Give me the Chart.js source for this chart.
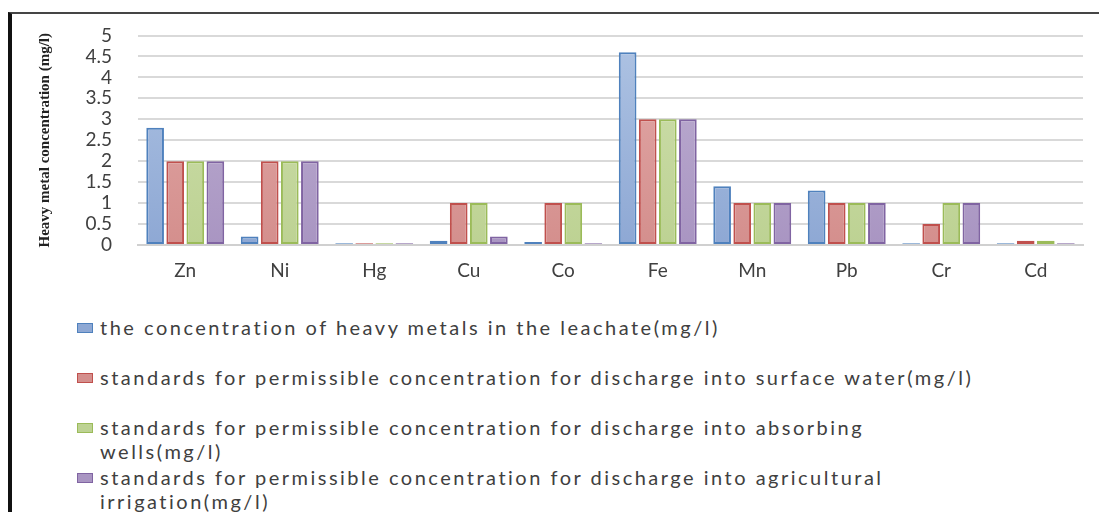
<!DOCTYPE html>
<html>
<head>
<meta charset="utf-8">
<script src="https://cdn.jsdelivr.net/npm/chart.js@4.4.1/dist/chart.umd.min.js"></script>
<style>
    html, body { margin: 0; padding: 0; background: #fff; }
    body { width: 1099px; height: 512px; position: relative; overflow: hidden; }
    #frame { position: absolute; left: 8px; top: 12px; width: 1091px; height: 500px;
             border-left: 4px solid #111; border-top: 2px solid #454545; box-sizing: border-box; }
    #chartBox { position: absolute; left: 0; top: 0; width: 1099px; height: 304px; }
    #legend { position: absolute; left: 77px; top: 315px; font-family: Lato, sans-serif;
              font-size: 20px; color: #404040; letter-spacing: 2.5px; }
    .item { display: flex; height: 50px; line-height: 24px; }
    .swatch { width: 14px; height: 8px; border: 1px solid; margin-top: 8px; margin-right: 7px; flex: none; }
    .text { width: 880px; }
</style>
</head>
<body>
<div id="frame"></div>
<div id="chartBox"><canvas id="metalChart"></canvas></div>
<div id="legend"></div>

<script>
const metals = ['Zn', 'Ni', 'Hg', 'Cu', 'Co', 'Fe', 'Mn', 'Pb', 'Cr', 'Cd'];

const leachate     = [2.8, 0.2, 0.04, 0.1, 0.07, 4.6, 1.4, 1.3, 0.04, 0.04];
const surfaceWater = [2, 2, 0.04, 1, 1, 3, 1, 1, 0.5, 0.1];
const absorbWells  = [2, 2, 0.04, 1, 1, 3, 1, 1, 1, 0.1];
const agriculture  = [2, 2, 0.04, 0.2, 0.04, 3, 1, 1, 1, 0.04];

const seriesNames = [
    'the concentration of heavy metals in the leachate(mg/l)',
    'standards for permissible concentration for discharge into surface water(mg/l)',
    'standards for permissible concentration for discharge into absorbing wells(mg/l)',
    'standards for permissible concentration for discharge into agricultural irrigation(mg/l)'
];

const yAxisTitle = 'Heavy metal concentration (mg/l)';

// gradient fill like the old office bar style
function gradientFill(top, bottom) {
    return (context) => {
        const area = context.chart.chartArea;
        if (!area) return bottom;
        const g = context.chart.ctx.createLinearGradient(0, area.top, 0, area.bottom);
        g.addColorStop(0, top);
        g.addColorStop(1, bottom);
        return g;
    };
}

function makeSet(label, data, top, bottom, border) {
    return {
        label: label,
        data: data,
        backgroundColor: gradientFill(top, bottom),
        borderColor: border,
        borderWidth: 2,
        borderSkipped: false,
        categoryPercentage: 0.85,
        barPercentage: 0.88,
        swatch: bottom
    };
}

const tickFont = { family: 'Lato', size: 19, lineHeight: 1 };

const ctx = document.getElementById('metalChart').getContext('2d');
const chart = new Chart(ctx, {
    type: 'bar',
    data: {
        labels: metals,
        datasets: [
            makeSet(seriesNames[0], leachate, '#aec3e3', '#8ea8d4', '#4f81bd'),
            makeSet(seriesNames[1], surfaceWater, '#e3aaa9', '#d48f8d', '#c0504d'),
            makeSet(seriesNames[2], absorbWells, '#cfdfae', '#bdd293', '#9bbb59'),
            makeSet(seriesNames[3], agriculture, '#beb0d2', '#a995c2', '#8064a2')
        ]
    },
    options: {
        responsive: true,
        maintainAspectRatio: false,
        animation: false,
        layout: { padding: { left: 36, right: 16, top: 31, bottom: 8 } },
        plugins: {
            legend: { display: false },
            tooltip: { enabled: false }
        },
        scales: {
            x: {
                grid: { display: false, drawTicks: false },
                border: { color: '#d0d0d0', width: 2 },
                ticks: { padding: 16, color: '#404040', font: tickFont }
            },
            y: {
                min: 0,
                max: 5,
                ticks: {
                    stepSize: 0.5,
                    autoSkip: false,
                    padding: 26,
                    color: '#404040',
                    font: tickFont,
                    callback: (v) => String(v)
                },
                grid: { color: '#d9d9d9', lineWidth: 2, drawTicks: false },
                border: { display: false },
                title: {
                    display: true,
                    text: yAxisTitle,
                    color: '#222',
                    font: { family: 'Liberation Serif', size: 15, weight: 'bold' },
                    padding: { top: 0, bottom: 0 }
                },
                afterFit: (scale) => { scale.width = 102; }
            }
        }
    }
});

// Legend
const legend = document.getElementById('legend');
chart.data.datasets.forEach(ds => {
    const item = document.createElement('div');
    item.className = 'item';
    item.innerHTML = `<span class="swatch" style="background:${ds.swatch};border-color:${ds.borderColor}"></span><span class="text">${ds.label}</span>`;
    legend.appendChild(item);
});
</script>
</body>
</html>
